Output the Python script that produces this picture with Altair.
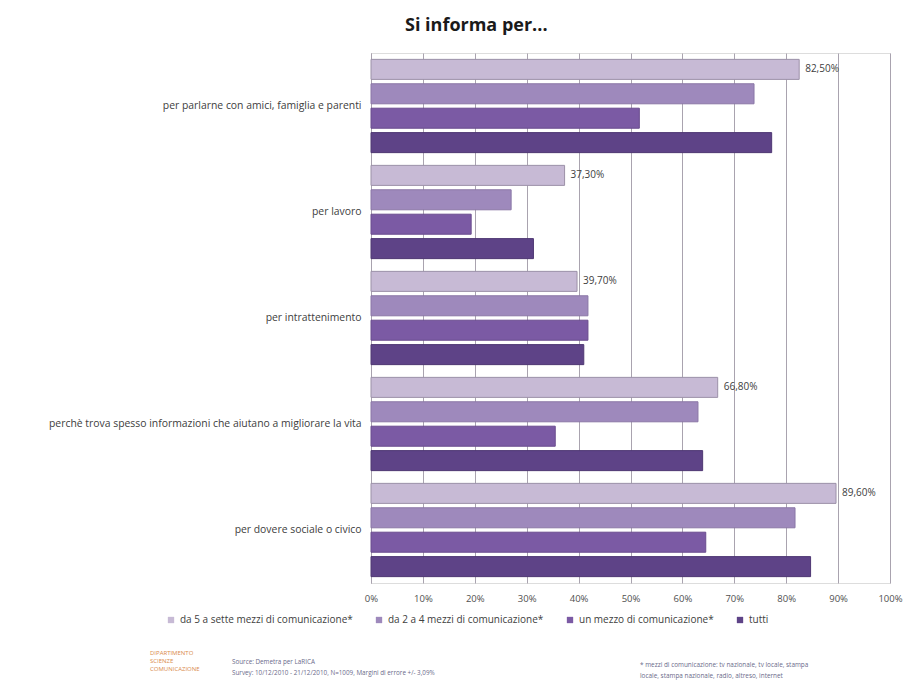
import altair as alt
import pandas as pd

categories = [
    "per parlarne con amici, famiglia e parenti",
    "per lavoro",
    "per intrattenimento",
    "perchè trova spesso informazioni che aiutano a migliorare la vita",
    "per dovere sociale o civico",
]
series = [
    "da 5 a sette mezzi di comunicazione*",
    "da 2 a 4 mezzi di comunicazione*",
    "un mezzo di comunicazione*",
    "tutti",
]
values_5_7 = [82.5, 37.3, 39.7, 66.8, 89.6]
values_2_4 = [73.8, 27.0, 41.8, 63.0, 81.7]
values_1 = [51.7, 19.3, 41.8, 35.5, 64.5]
values_all = [77.2, 31.3, 41.0, 63.9, 84.7]
x_ticks = [0, 10, 20, 30, 40, 50, 60, 70, 80, 90, 100]

fills = ["#C7BAD5", "#9E89BC", "#7B5AA4", "#5E4387"]
strokes = ["#9C91A8", "#8A77A6", "#6A4C8E", "#4F3873"]

rows = []
for s, vals in zip(series, [values_5_7, values_2_4, values_1, values_all]):
    for c, v in zip(categories, vals):
        rows.append({"cat": c, "serie": s, "v": v})
df = pd.DataFrame(rows)

font = "Open Sans"

y_enc = alt.Y("cat:N", sort=categories,
              scale=alt.Scale(paddingInner=0.12, paddingOuter=0.06),
              axis=alt.Axis(title=None, ticks=False, domain=True, domainColor="#A8A2AE",
                            labelLimit=420, labelPadding=10, labelFontSize=10.4,
                            labelColor="#404040", labelFont=font, grid=False))
x_enc = alt.X("v:Q", scale=alt.Scale(domain=[0, 100], nice=False),
              axis=alt.Axis(title=None, values=x_ticks, labelExpr="datum.value + '%'",
                            grid=True, gridColor="#A9A3AF", gridWidth=1, ticks=False,
                            domain=False, labelPadding=10, labelFontSize=9.5,
                            labelFlush=False, labelColor="#505050", labelFont=font))

bars = alt.Chart(df).mark_bar(strokeWidth=1).encode(
    y=y_enc,
    x=x_enc,
    yOffset=alt.YOffset("serie:N", sort=series,
                        scale=alt.Scale(paddingInner=0.18, paddingOuter=0.0)),
    color=alt.Color("serie:N", sort=series,
                    scale=alt.Scale(domain=series, range=fills),
                    legend=alt.Legend(title=None, orient="none", legendX=-205, legendY=562,
                                      direction="horizontal", symbolType="square",
                                      symbolSize=40, symbolStrokeWidth=0,
                                      labelFontSize=10, labelColor="#404040",
                                      labelFont=font, columnPadding=21, labelLimit=300)),
    stroke=alt.Stroke("serie:N", sort=series,
                      scale=alt.Scale(domain=series, range=strokes), legend=None),
)

labels = alt.Chart(df).transform_filter(
    alt.datum.serie == series[0]
).transform_calculate(
    lab="replace(format(datum.v, '.2f'), '.', ',') + '%'"
).mark_text(align="left", baseline="middle", dx=6, fontSize=10, color="#404040", font=font).encode(
    y=alt.Y("cat:N", sort=categories),
    x=alt.X("v:Q"),
    yOffset=alt.YOffset("serie:N", sort=series),
    text="lab:N",
)

footer_lines = [
    {"t": "Source: Demetra per LaRICA", "x": 232, "y": 609, "c": "#6A6A8A", "s": 6.3},
    {"t": "Survey: 10/12/2010 - 21/12/2010, N=1009, Margini di errore +/- 3,09%", "x": 232, "y": 620, "c": "#6A6A8A", "s": 6.3},
    {"t": "* mezzi di comunicazione: tv nazionale, tv locale, stampa", "x": 640, "y": 612, "c": "#6A6A8A", "s": 6.4},
    {"t": "locale, stampa nazionale, radio, altreso, internet", "x": 640, "y": 623, "c": "#6A6A8A", "s": 6.4},
    {"t": "DIPARTIMENTO", "x": 150, "y": 600, "c": "#D98A4A", "s": 6},
    {"t": "SCIENZE", "x": 150, "y": 608, "c": "#D98A4A", "s": 6},
    {"t": "COMUNICAZIONE", "x": 150, "y": 616, "c": "#D98A4A", "s": 6},
]
foot = []
for f in footer_lines:
    foot.append(
        alt.Chart(pd.DataFrame({"t": [f["t"]]})).mark_text(
            align="left", baseline="middle", fontSize=f["s"], color=f["c"], font=font
        ).encode(x=alt.value(f["x"] - 371), y=alt.value(f["y"]), text="t:N")
    )

chart = alt.layer(bars, labels, *foot).properties(
    width=519,
    height=530,
    padding={"left": 363, "top": 45, "right": 15, "bottom": 100},
    autosize=alt.AutoSizeParams(type="none"),
    title=alt.Title("Si informa per...", anchor="start", frame="group", dx=34, offset=18,
                    fontSize=18, font=font, fontWeight="bold", color="#1A1A1A"),
).configure_view(fill="#EDE9F1", stroke="#A8A2AE").configure(background="white")

chart.save("out.html", embed_options={"renderer": "svg", "actions": False})
